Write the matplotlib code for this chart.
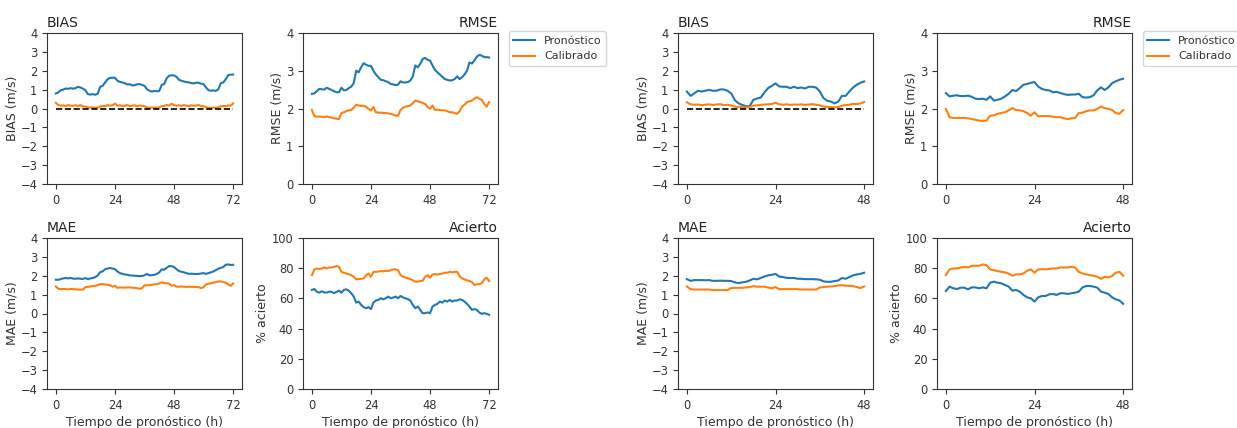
import matplotlib
matplotlib.use("Agg")
import matplotlib.pyplot as plt
import numpy as np

# ---------------- data: 72 h forecast (left block) ----------------
hours_72 = list(range(0, 73))
bias_pron_72 = [0.80, 0.85, 0.97, 1.00, 1.06, 1.04, 1.08, 1.05, 1.08, 1.15,
                1.11, 1.05, 0.97, 0.76, 0.74, 0.76, 0.73, 0.78, 1.15, 1.20,
                1.38, 1.55, 1.62, 1.63, 1.63, 1.47, 1.41, 1.38, 1.34, 1.27,
                1.29, 1.22, 1.24, 1.28, 1.29, 1.25, 1.20, 1.02, 0.94, 0.90,
                0.93, 0.91, 0.93, 1.25, 1.30, 1.60, 1.74, 1.76, 1.75, 1.68,
                1.52, 1.47, 1.43, 1.40, 1.38, 1.35, 1.33, 1.37, 1.36, 1.32,
                1.29, 1.11, 0.97, 0.94, 0.96, 0.93, 1.02, 1.34, 1.38, 1.55,
                1.77, 1.79, 1.80]
bias_cal_72 = [0.30, 0.18, 0.15, 0.17, 0.13, 0.18, 0.15, 0.14, 0.17, 0.13,
               0.18, 0.12, 0.10, 0.06, 0.05, 0.06, 0.04, 0.05, 0.10, 0.14,
               0.12, 0.18, 0.15, 0.17, 0.26, 0.15, 0.17, 0.13, 0.15, 0.18,
               0.13, 0.15, 0.17, 0.12, 0.16, 0.14, 0.12, 0.06, 0.04, 0.05,
               0.05, 0.04, 0.06, 0.12, 0.14, 0.18, 0.16, 0.25, 0.18, 0.15,
               0.17, 0.14, 0.18, 0.15, 0.13, 0.17, 0.14, 0.16, 0.18, 0.13,
               0.12, 0.06, 0.04, 0.03, 0.05, 0.04, 0.06, 0.12, 0.14, 0.12,
               0.16, 0.15, 0.27]
rmse_pron_72 = [2.39, 2.40, 2.46, 2.52, 2.51, 2.50, 2.55, 2.52, 2.49, 2.46,
                2.43, 2.43, 2.55, 2.48, 2.49, 2.54, 2.58, 2.67, 3.00, 2.96,
                3.09, 3.20, 3.16, 3.13, 3.13, 3.00, 2.90, 2.83, 2.76, 2.75,
                2.72, 2.70, 2.65, 2.64, 2.62, 2.63, 2.72, 2.69, 2.69, 2.70,
                2.74, 2.85, 3.14, 3.09, 3.18, 3.31, 3.34, 3.29, 3.27, 3.14,
                3.02, 2.96, 2.90, 2.84, 2.78, 2.76, 2.74, 2.75, 2.78, 2.85,
                2.78, 2.83, 2.90, 3.00, 3.22, 3.19, 3.27, 3.37, 3.42, 3.40,
                3.36, 3.36, 3.35]
rmse_cal_72 = [1.96, 1.80, 1.78, 1.79, 1.78, 1.77, 1.79, 1.77, 1.76, 1.74,
               1.73, 1.72, 1.88, 1.90, 1.93, 1.95, 1.96, 2.02, 2.10, 2.08,
               2.07, 2.07, 2.05, 1.99, 1.95, 2.04, 1.90, 1.89, 1.89, 1.88,
               1.88, 1.87, 1.86, 1.84, 1.81, 1.81, 1.96, 2.02, 2.05, 2.06,
               2.08, 2.14, 2.21, 2.19, 2.17, 2.15, 2.12, 2.04, 1.99, 2.08,
               1.96, 1.97, 1.96, 1.95, 1.95, 1.93, 1.90, 1.90, 1.88, 1.86,
               1.93, 2.05, 2.10, 2.17, 2.19, 2.21, 2.26, 2.30, 2.26, 2.23,
               2.12, 2.05, 2.17]
mae_pron_72 = [1.79, 1.79, 1.82, 1.86, 1.88, 1.86, 1.88, 1.85, 1.84, 1.86,
               1.84, 1.83, 1.88, 1.82, 1.86, 1.88, 1.93, 2.02, 2.19, 2.23,
               2.35, 2.38, 2.41, 2.38, 2.35, 2.23, 2.14, 2.10, 2.07, 2.05,
               2.02, 2.01, 2.00, 1.99, 1.98, 1.99, 2.02, 2.10, 2.02, 2.03,
               2.05, 2.10, 2.18, 2.34, 2.32, 2.42, 2.51, 2.51, 2.46, 2.35,
               2.25, 2.21, 2.18, 2.14, 2.10, 2.11, 2.10, 2.09, 2.10, 2.12,
               2.14, 2.10, 2.14, 2.18, 2.23, 2.30, 2.37, 2.42, 2.46, 2.58,
               2.60, 2.57, 2.58]
mae_cal_72 = [1.43, 1.31, 1.29, 1.30, 1.29, 1.28, 1.30, 1.29, 1.28, 1.27,
              1.26, 1.27, 1.40, 1.41, 1.43, 1.45, 1.47, 1.50, 1.56, 1.55,
              1.54, 1.52, 1.50, 1.42, 1.47, 1.36, 1.38, 1.38, 1.37, 1.38,
              1.38, 1.37, 1.36, 1.34, 1.31, 1.34, 1.49, 1.50, 1.50, 1.52,
              1.54, 1.56, 1.59, 1.65, 1.61, 1.60, 1.58, 1.47, 1.50, 1.42,
              1.42, 1.43, 1.42, 1.41, 1.42, 1.41, 1.41, 1.40, 1.40, 1.34,
              1.40, 1.54, 1.58, 1.60, 1.63, 1.66, 1.70, 1.70, 1.66, 1.63,
              1.54, 1.47, 1.59]
acierto_pron_72 = [65.6, 66.2, 64.5, 63.8, 64.7, 64.0, 63.8, 64.5, 64.3, 63.5,
                   64.3, 65.1, 63.8, 65.6, 66.0, 65.1, 63.4, 61.2, 57.2, 57.9,
                   55.7, 54.2, 53.5, 54.2, 52.9, 57.2, 58.6, 59.0, 60.1, 59.4,
                   60.1, 61.2, 60.1, 60.5, 61.2, 60.1, 61.6, 60.7, 60.1, 59.5,
                   58.6, 55.7, 53.5, 54.6, 52.4, 50.2, 50.2, 50.7, 50.2, 54.6,
                   55.7, 56.4, 57.9, 57.2, 58.6, 57.9, 59.0, 57.9, 58.6, 58.6,
                   59.4, 59.0, 57.9, 56.4, 54.6, 52.4, 52.9, 52.4, 50.7, 49.8,
                   50.2, 49.8, 49.1]
acierto_cal_72 = [75.4, 79.2, 79.8, 79.5, 79.8, 80.5, 79.8, 80.5, 80.5, 80.8,
                  81.4, 80.9, 77.6, 77.0, 76.5, 76.0, 75.4, 74.3, 72.6, 72.8,
                  73.0, 73.2, 75.4, 76.5, 74.3, 77.6, 77.6, 77.8, 78.1, 77.9,
                  78.3, 78.0, 78.7, 79.2, 79.2, 78.7, 75.4, 74.3, 73.9, 73.2,
                  72.8, 72.0, 71.1, 71.1, 71.5, 71.7, 74.3, 75.4, 73.7, 75.9,
                  76.1, 75.8, 76.1, 76.5, 77.0, 77.0, 77.6, 77.2, 77.6, 77.6,
                  74.8, 73.2, 72.6, 72.0, 71.5, 70.8, 68.9, 69.3, 69.5, 70.0,
                  72.6, 73.7, 71.5]

# ---------------- data: 48 h forecast (right block) ----------------
hours_48 = list(range(0, 49))
bias_pron_48 = [0.90, 0.67, 0.80, 0.94, 0.90, 0.94, 0.99, 0.94, 0.94, 1.01,
                1.01, 0.94, 0.80, 0.44, 0.27, 0.19, 0.12, 0.12, 0.46, 0.53,
                0.58, 0.85, 1.08, 1.20, 1.33, 1.17, 1.15, 1.15, 1.08, 1.15,
                1.08, 1.11, 1.06, 1.15, 1.15, 1.11, 0.90, 0.55, 0.41, 0.37,
                0.27, 0.37, 0.67, 0.67, 0.90, 1.11, 1.26, 1.36, 1.43]
bias_cal_48 = [0.33, 0.22, 0.20, 0.21, 0.18, 0.20, 0.22, 0.19, 0.21, 0.23,
               0.18, 0.20, 0.16, 0.10, 0.08, 0.07, 0.06, 0.08, 0.15, 0.17,
               0.19, 0.21, 0.22, 0.24, 0.30, 0.22, 0.20, 0.22, 0.19, 0.21,
               0.20, 0.22, 0.19, 0.21, 0.23, 0.20, 0.17, 0.10, 0.08, 0.07,
               0.06, 0.08, 0.15, 0.18, 0.20, 0.25, 0.23, 0.26, 0.35]
rmse_pron_48 = [2.41, 2.32, 2.34, 2.35, 2.33, 2.33, 2.34, 2.31, 2.26, 2.25,
                2.26, 2.23, 2.32, 2.21, 2.23, 2.26, 2.32, 2.39, 2.49, 2.46,
                2.54, 2.63, 2.65, 2.68, 2.70, 2.58, 2.52, 2.49, 2.48, 2.43,
                2.44, 2.41, 2.38, 2.36, 2.37, 2.37, 2.39, 2.30, 2.29, 2.30,
                2.35, 2.48, 2.56, 2.49, 2.56, 2.67, 2.72, 2.76, 2.79]
rmse_cal_48 = [1.99, 1.77, 1.75, 1.75, 1.75, 1.75, 1.74, 1.72, 1.70, 1.68,
               1.67, 1.68, 1.81, 1.82, 1.86, 1.88, 1.90, 1.95, 2.01, 1.96,
               1.95, 1.93, 1.88, 1.81, 1.90, 1.79, 1.80, 1.80, 1.80, 1.78,
               1.77, 1.77, 1.74, 1.72, 1.74, 1.75, 1.88, 1.89, 1.93, 1.95,
               1.95, 1.99, 2.05, 2.01, 1.99, 1.96, 1.88, 1.86, 1.96]
mae_pron_48 = [1.82, 1.73, 1.77, 1.77, 1.77, 1.76, 1.77, 1.73, 1.73, 1.74,
               1.73, 1.73, 1.72, 1.65, 1.61, 1.65, 1.68, 1.75, 1.84, 1.81,
               1.88, 1.96, 2.02, 2.05, 2.10, 1.96, 1.93, 1.89, 1.88, 1.88,
               1.84, 1.84, 1.82, 1.82, 1.82, 1.81, 1.79, 1.70, 1.68, 1.68,
               1.72, 1.75, 1.88, 1.84, 1.93, 2.02, 2.07, 2.10, 2.16]
mae_cal_48 = [1.43, 1.29, 1.27, 1.27, 1.27, 1.27, 1.27, 1.24, 1.24, 1.24,
              1.24, 1.24, 1.35, 1.36, 1.36, 1.36, 1.38, 1.40, 1.45, 1.42,
              1.42, 1.42, 1.38, 1.33, 1.40, 1.29, 1.29, 1.29, 1.29, 1.29,
              1.29, 1.27, 1.27, 1.27, 1.27, 1.27, 1.38, 1.40, 1.42, 1.43,
              1.45, 1.49, 1.50, 1.47, 1.47, 1.45, 1.40, 1.35, 1.43]
acierto_pron_48 = [64.9, 67.8, 66.7, 66.2, 67.1, 67.1, 66.0, 67.3, 67.3, 66.7,
                   67.3, 66.7, 70.4, 71.1, 70.4, 70.0, 68.9, 67.8, 65.1, 65.6,
                   64.5, 62.3, 60.7, 60.1, 57.9, 60.7, 61.6, 61.6, 62.7, 62.9,
                   62.3, 63.4, 63.4, 62.9, 63.4, 63.8, 64.5, 67.3, 68.2, 68.2,
                   67.8, 67.1, 64.5, 63.8, 62.9, 60.7, 59.4, 58.6, 56.4]
acierto_cal_48 = [75.4, 79.2, 79.8, 79.8, 80.5, 80.9, 80.5, 81.6, 81.6, 81.6,
                  82.5, 82.0, 79.2, 78.7, 78.1, 77.6, 77.2, 76.5, 75.0, 75.9,
                  75.9, 76.5, 78.3, 79.2, 77.0, 79.2, 79.4, 79.2, 79.6, 79.8,
                  79.8, 80.5, 80.5, 80.5, 80.9, 80.5, 77.6, 76.5, 75.9, 75.4,
                  75.0, 74.3, 73.0, 74.3, 73.9, 74.8, 77.0, 77.6, 75.0]

series_labels = ["Pronóstico", "Calibrado"]
xtick_72 = [0, 24, 48, 72]
xtick_48 = [0, 24, 48]

# ---------------- figure ----------------
W, H = 1237, 428
fig = plt.figure(figsize=(W / 100, H / 100), dpi=100)

TITLE_FS = 10
LABEL_FS = 9
TICK_FS = 8.3
LEG_FS = 8.0
LW = 1.5
C_PRON = "#1f77b4"
C_CAL = "#ff7f0e"
TXT = "#333333"


def px_axes(x0, y0, x1, y1):
    return fig.add_axes([x0 / W, 1 - y1 / H, (x1 - x0) / W, (y1 - y0) / H])


def style(ax, xticks, ylim, yticks, ylabel, title, tloc, xlabel=None):
    ax.set_ylim(*ylim)
    ax.set_yticks(yticks)
    ax.set_xticks(xticks)
    ax.tick_params(labelsize=TICK_FS, length=3.5, labelcolor=TXT, color="#333333")
    for s in ax.spines.values():
        s.set_color("#333333")
    ax.set_ylabel(ylabel, fontsize=LABEL_FS, color=TXT, labelpad=1.5)
    ax.set_title(title, loc=tloc, fontsize=TITLE_FS, pad=4, color="#222222")
    if xlabel:
        ax.set_xlabel(xlabel, fontsize=LABEL_FS, color=TXT, labelpad=3)


def block(xoff, hours, xticks, bp, bc, rp, rc, mp, mc, ap, ac):
    axb = px_axes(xoff[0], 33, xoff[0] + 195, 184)
    axr = px_axes(xoff[1], 33, xoff[1] + 195, 184)
    axm = px_axes(xoff[0], 238, xoff[0] + 195, 389)
    axa = px_axes(xoff[1], 238, xoff[1] + 195, 389)

    axb.plot(hours, bp, color=C_PRON, lw=LW)
    axb.plot(hours, bc, color=C_CAL, lw=LW)
    axb.plot([hours[0], hours[-1]], [0, 0], "k--", lw=1.2)
    style(axb, xticks, (-4, 4), range(-4, 5), "BIAS (m/s)", "BIAS", "left")

    axr.plot(hours, rp, color=C_PRON, lw=LW, label=series_labels[0])
    axr.plot(hours, rc, color=C_CAL, lw=LW, label=series_labels[1])
    style(axr, xticks, (0, 4), range(0, 5), "RMSE (m/s)", "RMSE", "right")
    leg = axr.legend(loc="upper left", bbox_to_anchor=(1.055, 1.01), borderaxespad=0,
                     fontsize=LEG_FS, handlelength=2.0)
    for t in leg.get_texts():
        t.set_color(TXT)

    axm.plot(hours, mp, color=C_PRON, lw=LW)
    axm.plot(hours, mc, color=C_CAL, lw=LW)
    style(axm, xticks, (-4, 4), range(-4, 5), "MAE (m/s)", "MAE", "left",
          "Tiempo de pronóstico (h)")

    axa.plot(hours, ap, color=C_PRON, lw=LW)
    axa.plot(hours, ac, color=C_CAL, lw=LW)
    style(axa, xticks, (0, 100), range(0, 101, 20), "% acierto", "Acierto", "right",
          "Tiempo de pronóstico (h)")


block((47, 303), hours_72, xtick_72,
      bias_pron_72, bias_cal_72, rmse_pron_72, rmse_cal_72,
      mae_pron_72, mae_cal_72, acierto_pron_72, acierto_cal_72)
block((678, 937), hours_48, xtick_48,
      bias_pron_48, bias_cal_48, rmse_pron_48, rmse_cal_48,
      mae_pron_48, mae_cal_48, acierto_pron_48, acierto_cal_48)

fig.savefig("out.png", dpi=100)
